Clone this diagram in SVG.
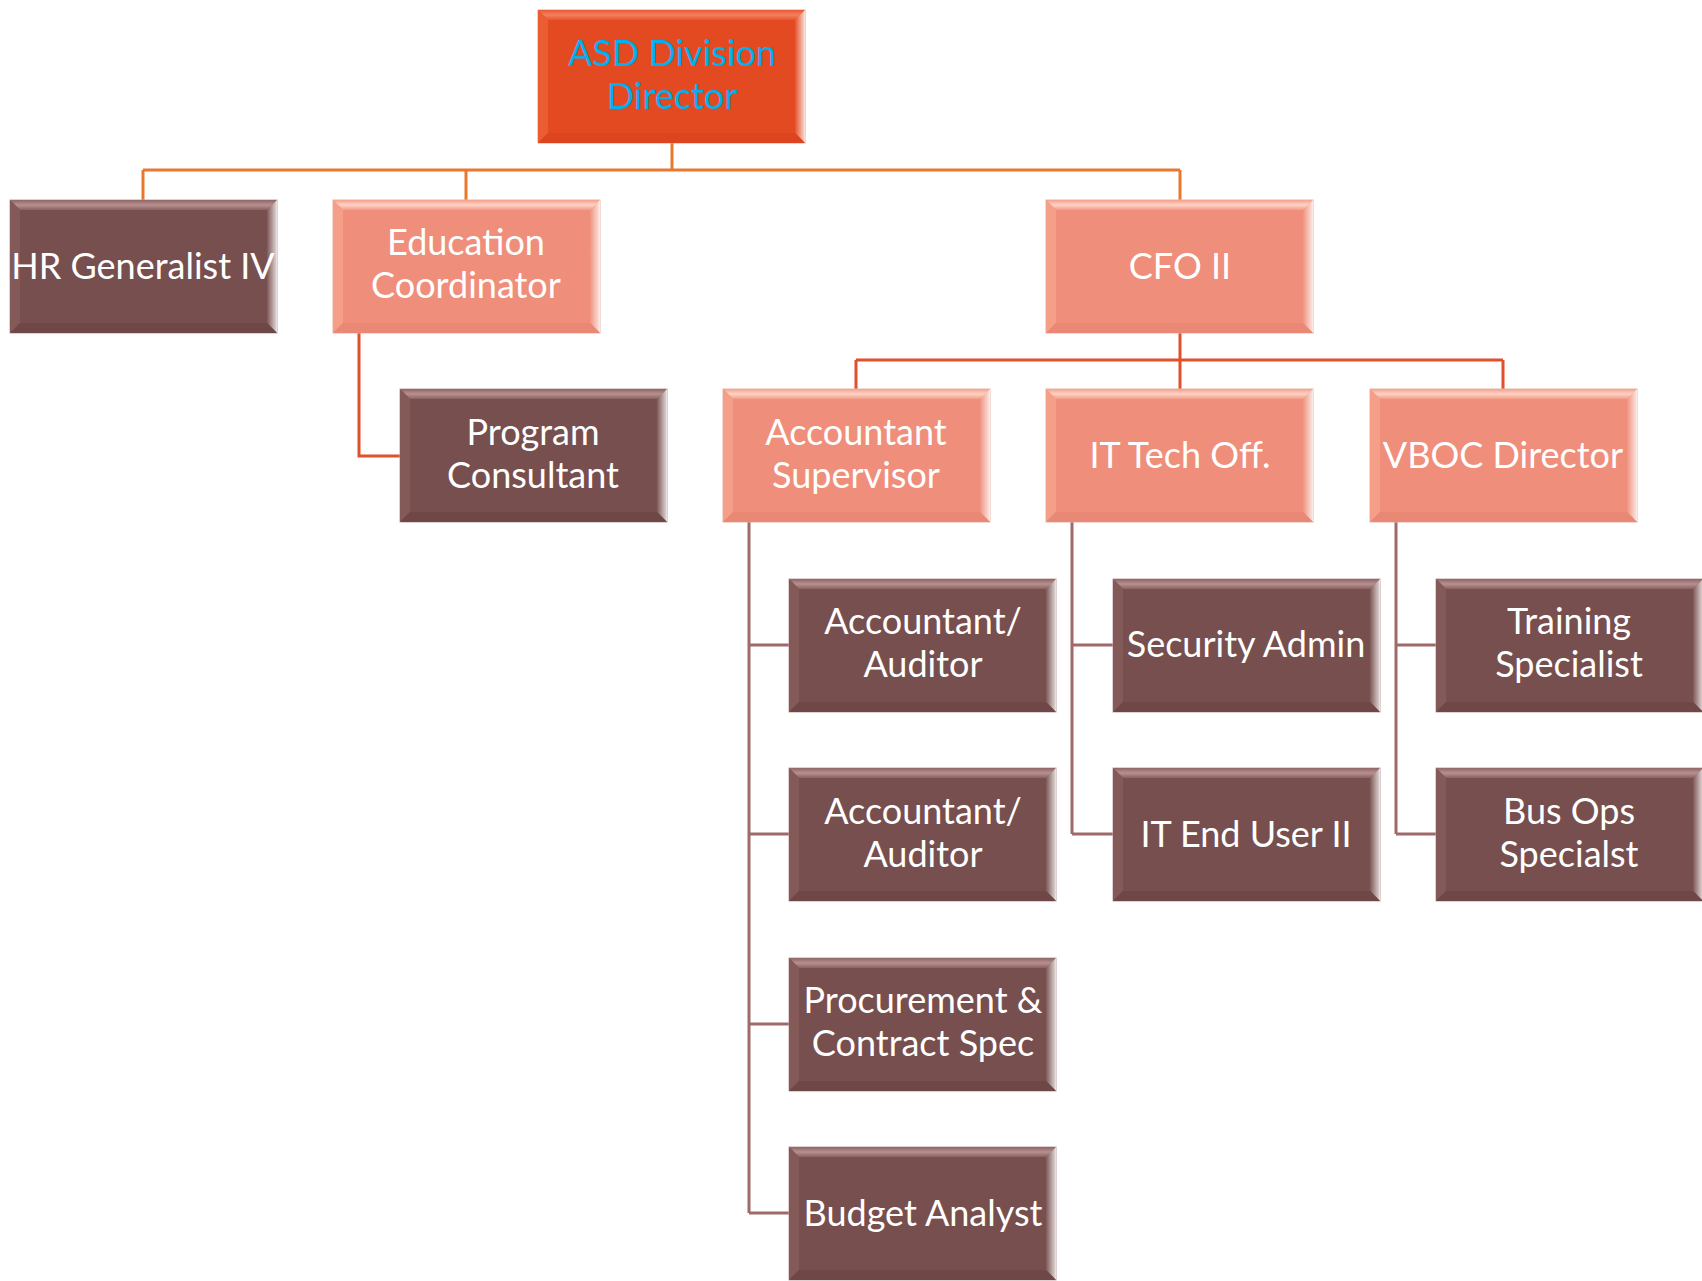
<svg xmlns="http://www.w3.org/2000/svg" xmlns:xlink="http://www.w3.org/1999/xlink" width="1702" height="1281" viewBox="0 0 1702 1281">
<style>
text { font-family: Lato, "Liberation Sans", sans-serif; font-size: 36px; text-anchor: middle; fill: #FFFFFF; }
.top text { fill: #00B0F0; }
.c1 { fill: none; stroke: #E8782E; stroke-width: 3; }
.c2 { fill: none; stroke: #E0502A; stroke-width: 3; }
.c3 { fill: none; stroke: #A06A6A; stroke-width: 3; }
</style>
<defs>
<linearGradient id="gTopDark" x1="0" y1="0" x2="0" y2="1">
<stop offset="0" stop-color="#8E6666"/><stop offset="0.5" stop-color="#B99090"/><stop offset="1" stop-color="#8A6262"/>
</linearGradient>
<linearGradient id="gTopSal" x1="0" y1="0" x2="0" y2="1">
<stop offset="0" stop-color="#F4A08C"/><stop offset="0.5" stop-color="#FFD3C6"/><stop offset="1" stop-color="#F39C88"/>
</linearGradient>
<linearGradient id="gTopRed" x1="0" y1="0" x2="0" y2="1">
<stop offset="0" stop-color="#E85A34"/><stop offset="0.5" stop-color="#F2805E"/><stop offset="1" stop-color="#E8562F"/>
</linearGradient>
<linearGradient id="gRight" x1="0" y1="0" x2="1" y2="0">
<stop offset="0" stop-color="#FFFFFF" stop-opacity="0.05"/><stop offset="1" stop-color="#FFFFFF" stop-opacity="0.8"/>
</linearGradient>
<symbol id="boxDark" viewBox="0 0 267 133" width="267" height="133" overflow="visible">
<rect x="0" y="0" width="267" height="133" fill="#774F4E" stroke="#BFA3A3" stroke-width="1"/>
<polygon points="0,0 267,0 257,10 10,10" fill="url(#gTopDark)"/>
<polygon points="0,0 10,10 10,123 0,133" fill="#845A59"/>
<polygon points="267,0 267,133 257,123 257,10" fill="url(#gRight)"/>
<polygon points="0,133 10,123 257,123 267,133" fill="#6E4746"/>
</symbol>
<symbol id="boxSal" viewBox="0 0 267 133" width="267" height="133" overflow="visible">
<rect x="0" y="0" width="267" height="133" fill="#EF8E7A" stroke="#E9B5AA" stroke-width="1"/>
<polygon points="0,0 267,0 257,10 10,10" fill="url(#gTopSal)"/>
<polygon points="0,0 10,10 10,123 0,133" fill="#F59E88"/>
<polygon points="267,0 267,133 257,123 257,10" fill="url(#gRight)"/>
<polygon points="0,133 10,123 257,123 267,133" fill="#E98875"/>
</symbol>
<symbol id="boxRed" viewBox="0 0 267 133" width="267" height="133" overflow="visible">
<rect x="0" y="0" width="267" height="133" fill="#E44A22" stroke="#D9A89A" stroke-width="1"/>
<polygon points="0,0 267,0 257,10 10,10" fill="url(#gTopRed)"/>
<polygon points="0,0 10,10 10,123 0,133" fill="#EC5C33"/>
<polygon points="267,0 267,133 257,123 257,10" fill="url(#gRight)"/>
<polygon points="0,133 10,123 257,123 267,133" fill="#DC4520"/>
</symbol>
</defs>
<rect width="1702" height="1281" fill="#FFFFFF"/>
<g id="connectors">
<path class="c1" d="M672 142 V170 M143 170 H1180 M143 170 V200 M466 170 V200 M1180 170 V200"/>
<path class="c2" d="M359 332 V456 H400"/>
<path class="c2" d="M1180 332 V360 M856 360 H1503 M856 360 V389 M1180 360 V389 M1503 360 V389"/>
<path class="c3" d="M749 521 V1213 M749 645 H789 M749 834 H789 M749 1024 H789 M749 1213 H789"/>
<path class="c3" d="M1072 521 V834 M1072 645 H1113 M1072 834 H1113"/>
<path class="c3" d="M1396 521 V834 M1396 645 H1436 M1396 834 H1436"/>
</g>
<g id="asd-director" class="top"><use xlink:href="#boxRed" x="538" y="10"/><text x="672" y="66">ASD Division</text><text x="672" y="109">Director</text></g>
<g id="hr-generalist"><use xlink:href="#boxDark" x="10" y="200"/><text x="143" y="279">HR Generalist IV</text></g>
<g id="education-coordinator"><use xlink:href="#boxSal" x="333" y="200"/><text x="466" y="255">Education</text><text x="466" y="298">Coordinator</text></g>
<g id="cfo"><use xlink:href="#boxSal" x="1046" y="200"/><text x="1180" y="279">CFO II</text></g>
<g id="program-consultant"><use xlink:href="#boxDark" x="400" y="389"/><text x="533" y="445">Program</text><text x="533" y="488">Consultant</text></g>
<g id="accountant-supervisor"><use xlink:href="#boxSal" x="723" y="389"/><text x="856" y="445">Accountant</text><text x="856" y="488">Supervisor</text></g>
<g id="it-tech"><use xlink:href="#boxSal" x="1046" y="389"/><text x="1180" y="468">IT Tech Off.</text></g>
<g id="vboc-director"><use xlink:href="#boxSal" x="1370" y="389"/><text x="1503" y="468">VBOC Director</text></g>
<g id="accountant-auditor-1"><use xlink:href="#boxDark" x="789" y="579"/><text x="923" y="634">Accountant/</text><text x="923" y="677">Auditor</text></g>
<g id="accountant-auditor-2"><use xlink:href="#boxDark" x="789" y="768"/><text x="923" y="824">Accountant/</text><text x="923" y="867">Auditor</text></g>
<g id="procurement"><use xlink:href="#boxDark" x="789" y="958"/><text x="923" y="1013">Procurement &amp;</text><text x="923" y="1056">Contract Spec</text></g>
<g id="budget-analyst"><use xlink:href="#boxDark" x="789" y="1147"/><text x="923" y="1226">Budget Analyst</text></g>
<g id="security-admin"><use xlink:href="#boxDark" x="1113" y="579"/><text x="1246" y="657">Security Admin</text></g>
<g id="it-end-user"><use xlink:href="#boxDark" x="1113" y="768"/><text x="1246" y="847">IT End User II</text></g>
<g id="training-specialist"><use xlink:href="#boxDark" x="1436" y="579"/><text x="1569" y="634">Training</text><text x="1569" y="677">Specialist</text></g>
<g id="bus-ops"><use xlink:href="#boxDark" x="1436" y="768"/><text x="1569" y="824">Bus Ops</text><text x="1569" y="867">Specialst</text></g>
</svg>
